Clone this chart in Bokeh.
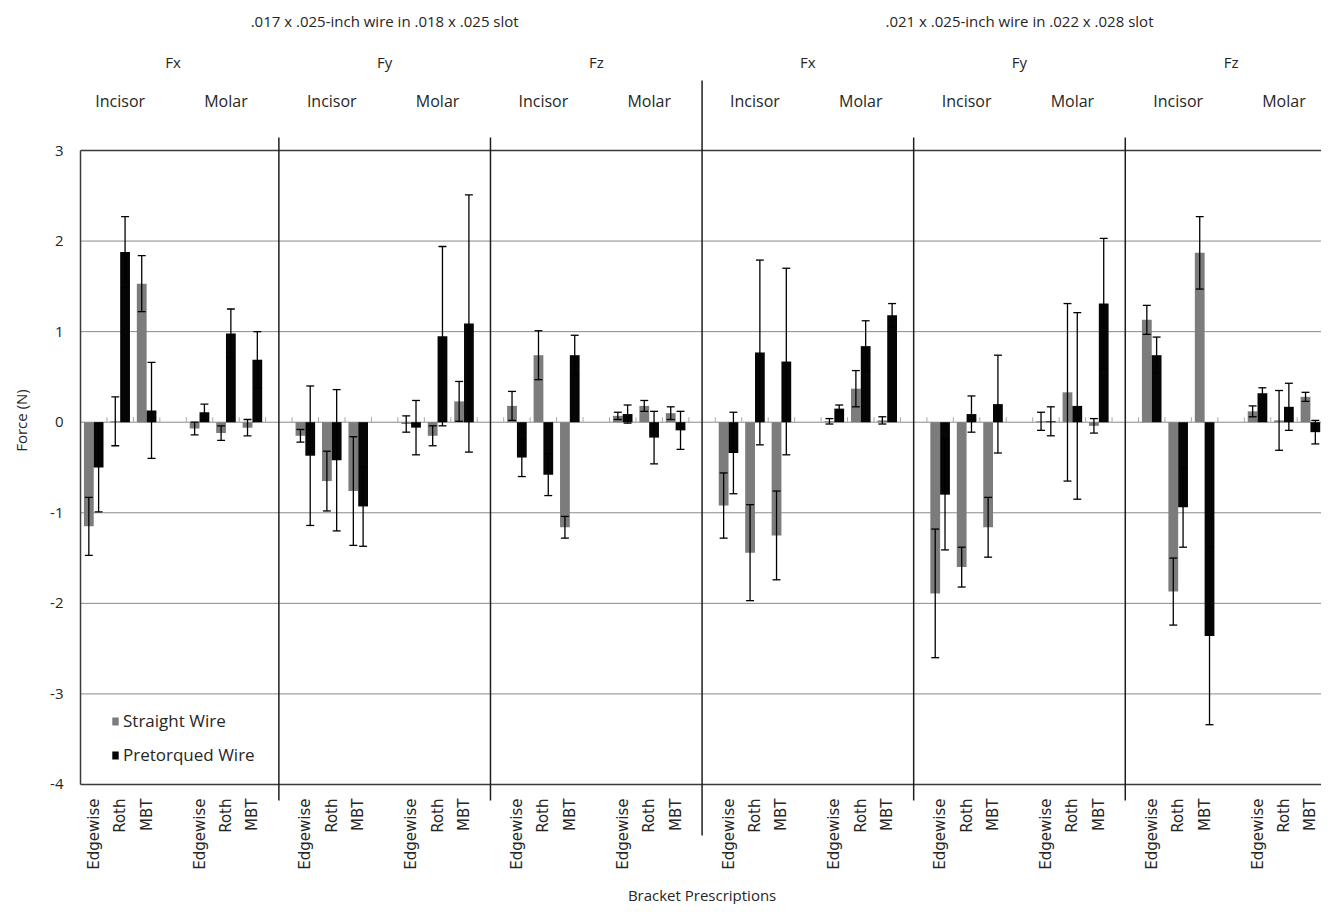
import math
from bokeh.plotting import figure
from bokeh.models import Range1d, Legend, LegendItem, ColumnDataSource
from bokeh.core.properties import value
from bokeh.embed import file_html
from bokeh.resources import INLINE

# ---------------- data ----------------
wire_titles = [".017 x .025-inch wire in .018 x .025 slot",
               ".021 x .025-inch wire in .022 x .028 slot"]
forces = ["Fx", "Fy", "Fz"]
teeth = ["Incisor", "Molar"]
brackets = ["Edgewise", "Roth", "MBT"]
y_ticks = [3, 2, 1, 0, -1, -2, -3, -4]
series_names = ["Straight Wire", "Pretorqued Wire"]

# order: wire -> force -> tooth -> bracket (Edgewise, Roth, MBT)
straight_mean = [
    -1.15, 0.01, 1.53,    -0.07, -0.12, -0.06,
    -0.15, -0.65, -0.76,  -0.02, -0.15, 0.23,
    0.18, 0.74, -1.16,    0.07, 0.18, 0.10,
    -0.92, -1.44, -1.25,  0.01, 0.37, 0.02,
    -1.89, -1.60, -1.16,  0.01, 0.33, -0.04,
    1.13, -1.87, 1.87,    0.12, 0.02, 0.28,
]
straight_err = [
    0.32, 0.27, 0.31,     0.07, 0.08, 0.09,
    0.07, 0.33, 0.60,     0.09, 0.11, 0.22,
    0.16, 0.27, 0.12,     0.04, 0.06, 0.07,
    0.36, 0.53, 0.49,     0.03, 0.20, 0.04,
    0.71, 0.22, 0.33,     0.10, 0.98, 0.08,
    0.16, 0.37, 0.40,     0.06, 0.33, 0.05,
]
pretorqued_mean = [
    -0.50, 1.88, 0.13,    0.11, 0.98, 0.69,
    -0.37, -0.42, -0.93,  -0.06, 0.95, 1.09,
    -0.39, -0.58, 0.74,   0.09, -0.17, -0.09,
    -0.34, 0.77, 0.67,    0.15, 0.84, 1.18,
    -0.80, 0.09, 0.20,    0.01, 0.18, 1.31,
    0.74, -0.94, -2.36,   0.32, 0.17, -0.11,
]
pretorqued_err = [
    0.49, 0.39, 0.53,     0.09, 0.27, 0.31,
    0.77, 0.78, 0.44,     0.30, 0.99, 1.42,
    0.21, 0.23, 0.22,     0.10, 0.29, 0.21,
    0.45, 1.02, 1.03,     0.04, 0.28, 0.13,
    0.61, 0.20, 0.54,     0.16, 1.03, 0.72,
    0.20, 0.44, 0.98,     0.06, 0.26, 0.13,
]

# ---------------- layout ----------------
W, H = 1321, 904
SLOT_PX = 26.45      # pixels per category slot
UNIT_PX = 90.57      # pixels per Newton
PLOT_LEFT = 80       # px of left plot edge
Y3_PX = 150          # px of y = 3

x0 = -0.5 - PLOT_LEFT / SLOT_PX
x1 = x0 + W / SLOT_PX
y1 = 3 + Y3_PX / UNIT_PX
y0 = y1 - H / UNIT_PX


def xd(px):
    return x0 + px / SLOT_PX


def yd(px):
    return y1 - px / UNIT_PX


GRAY = "#7c7c7c"
BLACK = "#050505"
TXT = "#262626"
BAR_W = 0.37

p = figure(width=W, height=H, x_range=Range1d(x0, x1), y_range=Range1d(y0, y1),
           output_backend="svg", toolbar_location=None, min_border=0,
           x_axis_location=None, y_axis_location=None)
p.grid.visible = False
p.outline_line_color = None
p.background_fill_color = "white"
p.border_fill_color = "white"

# slot positions
slots = []
bracket_labels = []
for w in range(2):
    for f in range(3):
        for t in range(2):
            g = w * 6 + f * 2 + t
            for b in range(3):
                slots.append(4 * g + b)
                bracket_labels.append(brackets[b])
n_slots = 48
right_edge = x1

# gridlines
grid_vals = [v for v in y_ticks if v not in (3, -4)]
p.segment(x0=[-0.5] * len(grid_vals), x1=[right_edge] * len(grid_vals),
          y0=grid_vals, y1=grid_vals, line_color="#8a8a8a", line_width=1)
# frame top / bottom and left axis
p.segment(x0=[-0.5, -0.5], x1=[right_edge, right_edge], y0=[3, -4], y1=[3, -4],
          line_color="#3a3a3a", line_width=1.5)
p.segment(x0=[-0.5], x1=[-0.5], y0=[-4], y1=[3], line_color="#3a3a3a", line_width=1.5)

# category tick marks on zero line
tick_x = [k + 0.5 for k in range(n_slots)]
p.segment(x0=tick_x, x1=tick_x, y0=[0] * len(tick_x), y1=[5 / UNIT_PX] * len(tick_x),
          line_color="#a8a8a8", line_width=1)

# bars
src_s = ColumnDataSource(dict(x=[s - BAR_W / 2 for s in slots], top=straight_mean))
src_p = ColumnDataSource(dict(x=[s + BAR_W / 2 for s in slots], top=pretorqued_mean))
r_s = p.vbar(x="x", top="top", bottom=0, width=BAR_W, source=src_s,
             fill_color=GRAY, line_color=None)
r_p = p.vbar(x="x", top="top", bottom=0, width=BAR_W, source=src_p,
             fill_color=BLACK, line_color=None)

# error bars
CAP = 0.3
for off, means, errs in ((-BAR_W / 2, straight_mean, straight_err),
                         (BAR_W / 2, pretorqued_mean, pretorqued_err)):
    xs = [s + off for s in slots]
    lo = [m - e for m, e in zip(means, errs)]
    hi = [m + e for m, e in zip(means, errs)]
    p.segment(x0=xs, x1=xs, y0=lo, y1=hi, line_color="black", line_width=1.3)
    cx0 = [x - CAP / 2 for x in xs] * 2
    cx1 = [x + CAP / 2 for x in xs] * 2
    p.segment(x0=cx0, x1=cx1, y0=lo + hi, y1=lo + hi, line_color="black", line_width=1.3)

# group dividers
inner = [8 * f + 7 for f in (0, 1, 3, 4)]
p.segment(x0=inner, x1=inner, y0=[yd(137)] * 4, y1=[yd(800)] * 4,
          line_color="#1e1e1e", line_width=1.5)
p.segment(x0=[23], x1=[23], y0=[yd(80)], y1=[yd(835)],
          line_color="#1e1e1e", line_width=1.5)

# header texts
OS = value("Open Sans")
p.text(x=[24 * w + 11 for w in range(2)], y=[yd(20)] * 2, text=wire_titles,
       text_font=OS, text_font_size="15px", text_color=TXT,
       text_align="center", text_baseline="middle")
fx_pos, fx_txt = [], []
for w in range(2):
    for f in range(3):
        fx_pos.append(8 * (w * 3 + f) + 3)
        fx_txt.append(forces[f])
p.text(x=fx_pos, y=[yd(61)] * len(fx_pos), text=fx_txt,
       text_font=OS, text_font_size="15px", text_color=TXT,
       text_align="center", text_baseline="middle")
tooth_pos, tooth_txt = [], []
for g in range(12):
    tooth_pos.append(4 * g + 1)
    tooth_txt.append(teeth[g % 2])
p.text(x=tooth_pos, y=[yd(100)] * len(tooth_pos), text=tooth_txt,
       text_font=OS, text_font_size="16px", text_color=TXT,
       text_align="center", text_baseline="middle")

# bracket labels
p.text(x=slots, y=[yd(798)] * len(slots), text=bracket_labels, angle=math.pi / 2,
       text_font=value("DejaVu Sans"), text_font_size="15px", text_color=TXT,
       text_align="right", text_baseline="middle")
p.text(x=[23], y=[yd(894)], text=["Bracket Prescriptions"],
       text_font=OS, text_font_size="15px", text_color=TXT,
       text_align="center", text_baseline="middle")

# y tick labels and title
p.text(x=[xd(63)] * len(y_ticks), y=y_ticks, text=[str(v) for v in y_ticks],
       text_font=OS, text_font_size="15px", text_color=TXT,
       text_align="right", text_baseline="middle")
p.text(x=[xd(20)], y=[yd(420)], text=["Force (N)"], angle=math.pi / 2,
       text_font=OS, text_font_size="15px", text_color=TXT,
       text_align="center", text_baseline="middle")

# legend
legend = Legend(items=[LegendItem(label=series_names[0], renderers=[r_s]),
                       LegendItem(label=series_names[1], renderers=[r_p])],
                location=(111, 138), padding=0, margin=0, spacing=11,
                glyph_width=8, glyph_height=10, label_standoff=4,
                label_height=20, label_text_font="Open Sans",
                label_text_font_size="17px", label_text_color=TXT,
                border_line_color=None, background_fill_alpha=0)
p.add_layout(legend)

open("out.html", "w").write(file_html(p, INLINE))
